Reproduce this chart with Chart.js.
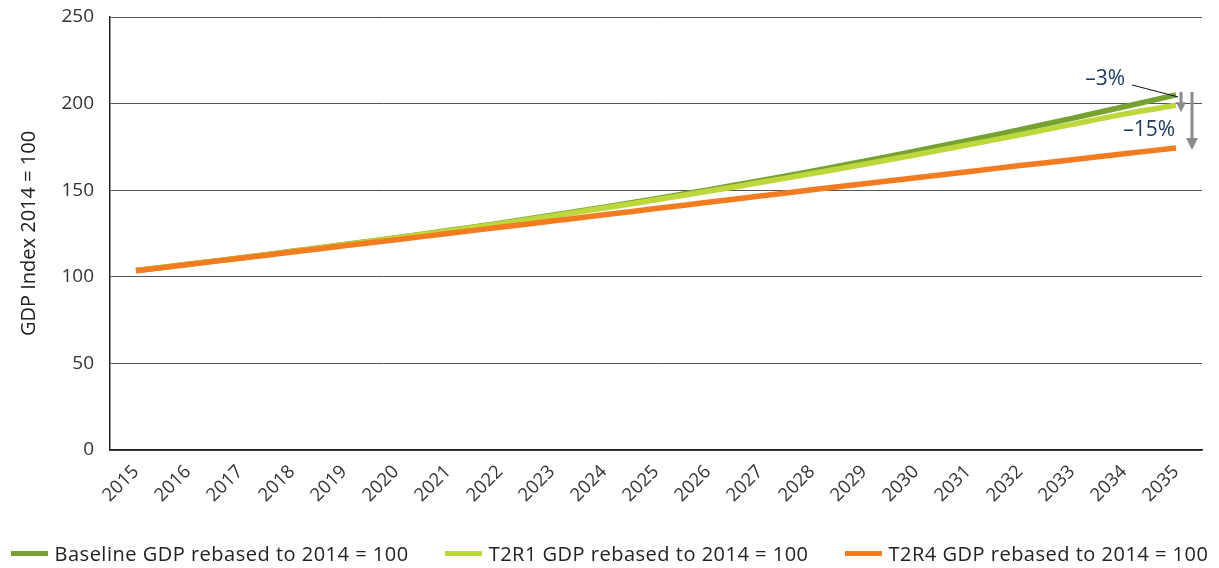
<!DOCTYPE html>
<html>
<head>
<meta charset="utf-8">
<script src="https://cdn.jsdelivr.net/npm/chart.js@4/dist/chart.umd.min.js"></script>
<style>
html,body{margin:0;padding:0;background:#fff;}
#wrap{position:relative;width:1219px;height:568px;}
#legend{position:absolute;left:0;top:540px;width:1219px;height:26px;display:flex;justify-content:center;align-items:center;gap:36px;
  font-family:'Open Sans',sans-serif;font-size:20px;letter-spacing:0.5px;color:#222;white-space:nowrap;}
#legend .item{display:flex;align-items:center;}
#legend .sw{width:37px;height:5px;margin-right:7px;}
</style>
</head>
<body>
<div id="wrap"><canvas id="c" width="1219" height="568"></canvas><div id="legend"></div></div>
<script>
const years = ["2015","2016","2017","2018","2019","2020","2021","2022","2023","2024","2025","2026","2027","2028","2029","2030","2031","2032","2033","2034","2035"];
const baseline = [103.6,107.2,110.9,114.7,118.6,122.6,126.7,131.0,135.5,140.2,145.1,150.2,155.5,161.0,166.7,172.6,178.7,185.0,191.5,198.2,205.0];
const t2r1 = [103.6,107.2,110.9,114.6,118.5,122.4,126.5,130.7,135.1,139.7,144.5,149.4,154.4,159.6,165.0,170.5,176.2,182.0,188.0,193.9,199.0];
const t2r4 = [103.5,107.1,110.7,114.3,117.9,121.4,125.0,128.6,132.2,135.8,139.4,143.0,146.6,150.2,153.7,157.2,160.7,164.2,167.6,171.0,174.4];
const seriesNames = ["Baseline GDP rebased to 2014 = 100","T2R1 GDP rebased to 2014 = 100","T2R4 GDP rebased to 2014 = 100"];
const yTicks = [0,50,100,150,200,250];
const labelA = "\u20133%";
const labelB = "\u201315%";

const FONT = "'Open Sans', sans-serif";
const C_BASE = "#76a232", C_T2R1 = "#bed73b", C_T2R4 = "#f47c20";

const annot = {
  id: 'annot',
  afterDatasetsDraw(chart){
    const ctx = chart.ctx, x = chart.scales.x, y = chart.scales.y;
    const last = years.length - 1;
    const px = x.getPixelForValue(last);
    const yb = y.getPixelForValue(baseline[last]);
    const y1 = y.getPixelForValue(t2r1[last]);
    const y4 = y.getPixelForValue(t2r4[last]);
    ctx.save();
    function arrow(ax, top, tip, hw, hh){
      ctx.fillStyle = "#8c8c8c";
      ctx.fillRect(ax-1.5, top, 3, tip-top-hh+1);
      ctx.beginPath();
      ctx.moveTo(ax-hw, tip-hh); ctx.lineTo(ax+hw, tip-hh); ctx.lineTo(ax, tip); ctx.closePath();
      ctx.fill();
    }
    arrow(px+5, yb-3, y1+7, 5, 10);
    arrow(px+16, yb-3, y4+2, 6, 12);
    ctx.strokeStyle = "#111"; ctx.lineWidth = 1;
    ctx.beginPath(); ctx.moveTo(px-44, yb-10); ctx.lineTo(px+2, yb+2); ctx.stroke();
    ctx.fillStyle = "#1d3b63";
    ctx.font = "21px " + FONT;
    ctx.textAlign = "right"; ctx.textBaseline = "middle";
    ctx.fillText(labelA, px-51, yb-16);
    ctx.fillText(labelB, px-1, y1+25);
    ctx.restore();
  }
};

const chart = new Chart(document.getElementById('c'), {
  type: 'line',
  data: {
    labels: years,
    datasets: [
      {label: seriesNames[0], data: baseline, borderColor: C_BASE, backgroundColor: C_BASE, borderWidth: 5.5, pointRadius: 0, tension: 0.3, order: 3},
      {label: seriesNames[1], data: t2r1, borderColor: C_T2R1, backgroundColor: C_T2R1, borderWidth: 5.5, pointRadius: 0, tension: 0.3, order: 2},
      {label: seriesNames[2], data: t2r4, borderColor: C_T2R4, backgroundColor: C_T2R4, borderWidth: 5.5, pointRadius: 0, tension: 0.3, order: 1}
    ]
  },
  options: {
    responsive: false,
    animation: false,
    layout: {padding: {top: 17, right: 17, left: 0, bottom: 0}},
    plugins: {
      tooltip: {enabled: false},
      legend: {display: false}
    },
    scales: {
      x: {
        offset: true,
        grid: {display: false, drawTicks: false},
        border: {color: "#222", width: 1.5},
        ticks: {color: "#333", font: {family: FONT, size: 18.5}, maxRotation: 45, minRotation: 45, padding: 11, autoSkip: false},
        afterFit(s){ s.height = 118; s.paddingLeft = 0; s.paddingRight = 0; }
      },
      y: {
        min: 0, max: 250,
        afterBuildTicks(s){ s.ticks = yTicks.map(v => ({value: v})); },
        grid: {color: "#555", lineWidth: 1, drawTicks: false},
        border: {color: "#222", width: 1.5},
        ticks: {color: "#333", font: {family: FONT, size: 19}, padding: 16},
        title: {display: true, text: "GDP Index 2014 = 100", color: "#222", font: {family: FONT, size: 20}, padding: {top: 17, bottom: 0}},
        afterFit(s){ s.width = 110; s.paddingTop = 0; s.paddingBottom = 0; }
      }
    }
  },
  plugins: [annot]
});

// HTML legend built from the chart's datasets
const leg = document.getElementById('legend');
chart.data.datasets.forEach(ds => {
  const it = document.createElement('div'); it.className = 'item';
  const sw = document.createElement('span'); sw.className = 'sw'; sw.style.background = ds.borderColor;
  const tx = document.createElement('span'); tx.textContent = ds.label;
  it.appendChild(sw); it.appendChild(tx); leg.appendChild(it);
});
</script>
</body>
</html>
